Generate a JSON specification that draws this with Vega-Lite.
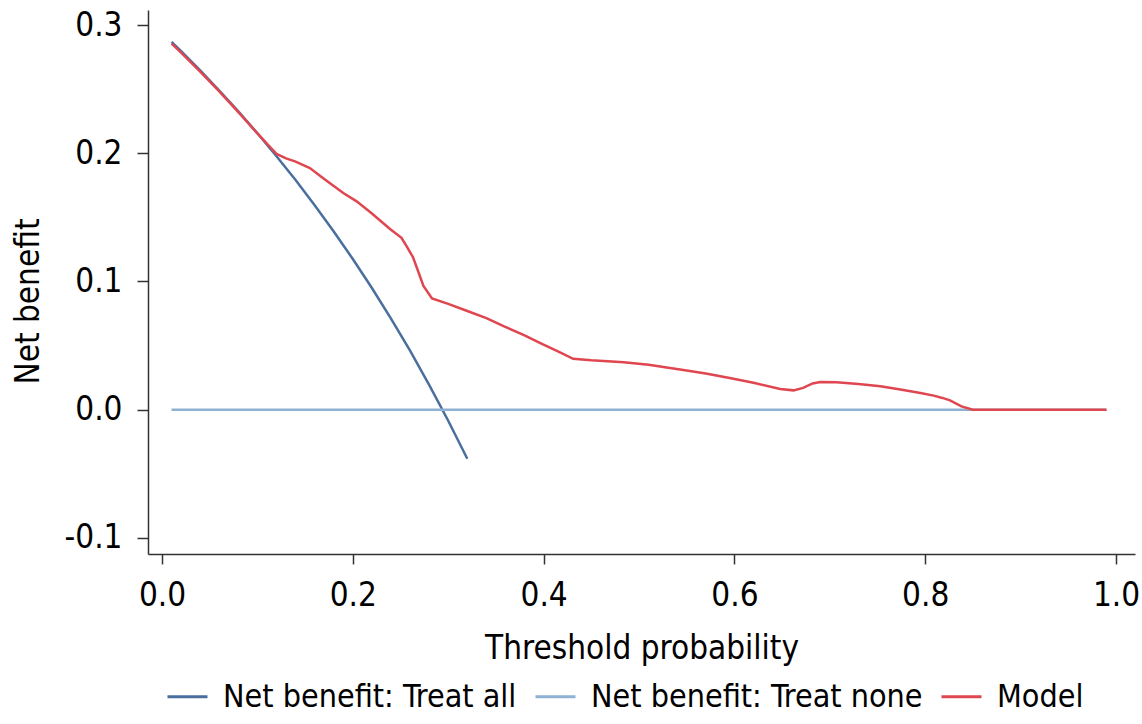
{
  "$schema": "https://vega.github.io/schema/vega-lite/v6.json",
  "autosize": "none",
  "width": 987,
  "height": 544,
  "padding": {"left": 148, "top": 10, "right": 7, "bottom": 170},
  "background": "white",
  "config": {
    "font": "DejaVu Sans Condensed",
    "view": {"stroke": null},
    "axis": {"labelFont": "DejaVu Sans Condensed", "titleFont": "DejaVu Sans Condensed", "labelFontSize": 33, "titleFontSize": 33, "labelColor": "#000", "titleColor": "#000", "titleFontWeight": "normal", "domainColor": "#333", "tickColor": "#333", "domainWidth": 1.5, "tickWidth": 1.5, "grid": false},
    "legend": {"labelFont": "DejaVu Sans Condensed", "labelFontSize": 32, "labelColor": "#000", "labelLimit": 0}
  },
  "datasets": {
    "curves": [
      {"t": 0.01, "nb": 0.2869, "series": "Net benefit: Treat all"},
      {"t": 0.02, "nb": 0.2796, "series": "Net benefit: Treat all"},
      {"t": 0.04, "nb": 0.2646, "series": "Net benefit: Treat all"},
      {"t": 0.06, "nb": 0.2489, "series": "Net benefit: Treat all"},
      {"t": 0.08, "nb": 0.2326, "series": "Net benefit: Treat all"},
      {"t": 0.10, "nb": 0.2156, "series": "Net benefit: Treat all"},
      {"t": 0.12, "nb": 0.1977, "series": "Net benefit: Treat all"},
      {"t": 0.14, "nb": 0.1791, "series": "Net benefit: Treat all"},
      {"t": 0.16, "nb": 0.1595, "series": "Net benefit: Treat all"},
      {"t": 0.18, "nb": 0.1390, "series": "Net benefit: Treat all"},
      {"t": 0.20, "nb": 0.1175, "series": "Net benefit: Treat all"},
      {"t": 0.22, "nb": 0.0949, "series": "Net benefit: Treat all"},
      {"t": 0.24, "nb": 0.0711, "series": "Net benefit: Treat all"},
      {"t": 0.26, "nb": 0.0460, "series": "Net benefit: Treat all"},
      {"t": 0.28, "nb": 0.0194, "series": "Net benefit: Treat all"},
      {"t": 0.30, "nb": -0.0086, "series": "Net benefit: Treat all"},
      {"t": 0.32, "nb": -0.0382, "series": "Net benefit: Treat all"},
      {"t": 0.01, "nb": 0, "series": "Net benefit: Treat none"},
      {"t": 0.25, "nb": 0, "series": "Net benefit: Treat none"},
      {"t": 0.50, "nb": 0, "series": "Net benefit: Treat none"},
      {"t": 0.75, "nb": 0, "series": "Net benefit: Treat none"},
      {"t": 0.99, "nb": 0, "series": "Net benefit: Treat none"},
      {"t": 0.01, "nb": 0.2855, "series": "Model"},
      {"t": 0.02, "nb": 0.2785, "series": "Model"},
      {"t": 0.04, "nb": 0.2637, "series": "Model"},
      {"t": 0.06, "nb": 0.2483, "series": "Model"},
      {"t": 0.08, "nb": 0.2321, "series": "Model"},
      {"t": 0.10, "nb": 0.2155, "series": "Model"},
      {"t": 0.115, "nb": 0.2035, "series": "Model"},
      {"t": 0.12, "nb": 0.1995, "series": "Model"},
      {"t": 0.13, "nb": 0.1960, "series": "Model"},
      {"t": 0.14, "nb": 0.1935, "series": "Model"},
      {"t": 0.155, "nb": 0.1885, "series": "Model"},
      {"t": 0.17, "nb": 0.1800, "series": "Model"},
      {"t": 0.19, "nb": 0.1690, "series": "Model"},
      {"t": 0.204, "nb": 0.1625, "series": "Model"},
      {"t": 0.22, "nb": 0.1530, "series": "Model"},
      {"t": 0.239, "nb": 0.1410, "series": "Model"},
      {"t": 0.251, "nb": 0.1340, "series": "Model"},
      {"t": 0.256, "nb": 0.1280, "series": "Model"},
      {"t": 0.263, "nb": 0.1190, "series": "Model"},
      {"t": 0.268, "nb": 0.1090, "series": "Model"},
      {"t": 0.274, "nb": 0.0966, "series": "Model"},
      {"t": 0.283, "nb": 0.0867, "series": "Model"},
      {"t": 0.30, "nb": 0.0825, "series": "Model"},
      {"t": 0.32, "nb": 0.0770, "series": "Model"},
      {"t": 0.34, "nb": 0.0715, "series": "Model"},
      {"t": 0.358, "nb": 0.0652, "series": "Model"},
      {"t": 0.38, "nb": 0.0580, "series": "Model"},
      {"t": 0.396, "nb": 0.0522, "series": "Model"},
      {"t": 0.415, "nb": 0.0455, "series": "Model"},
      {"t": 0.431, "nb": 0.0397, "series": "Model"},
      {"t": 0.45, "nb": 0.0385, "series": "Model"},
      {"t": 0.484, "nb": 0.0371, "series": "Model"},
      {"t": 0.51, "nb": 0.0350, "series": "Model"},
      {"t": 0.543, "nb": 0.0313, "series": "Model"},
      {"t": 0.57, "nb": 0.0283, "series": "Model"},
      {"t": 0.595, "nb": 0.0248, "series": "Model"},
      {"t": 0.62, "nb": 0.0210, "series": "Model"},
      {"t": 0.648, "nb": 0.0162, "series": "Model"},
      {"t": 0.662, "nb": 0.0151, "series": "Model"},
      {"t": 0.672, "nb": 0.0170, "series": "Model"},
      {"t": 0.682, "nb": 0.0205, "series": "Model"},
      {"t": 0.69, "nb": 0.0217, "series": "Model"},
      {"t": 0.707, "nb": 0.0214, "series": "Model"},
      {"t": 0.73, "nb": 0.0200, "series": "Model"},
      {"t": 0.753, "nb": 0.0183, "series": "Model"},
      {"t": 0.774, "nb": 0.0157, "series": "Model"},
      {"t": 0.795, "nb": 0.0130, "series": "Model"},
      {"t": 0.809, "nb": 0.0110, "series": "Model"},
      {"t": 0.818, "nb": 0.0092, "series": "Model"},
      {"t": 0.826, "nb": 0.0073, "series": "Model"},
      {"t": 0.838, "nb": 0.0026, "series": "Model"},
      {"t": 0.85, "nb": 0.0, "series": "Model"},
      {"t": 0.90, "nb": 0.0, "series": "Model"},
      {"t": 0.95, "nb": 0.0, "series": "Model"},
      {"t": 0.99, "nb": 0.0, "series": "Model"}
    ]
  },
  "data": {"name": "curves"},
  "encoding": {
    "x": {
      "field": "t", "type": "quantitative",
      "scale": {"domain": [-0.0147, 1.0199], "nice": false, "zero": false},
      "axis": {"title": "Threshold probability", "values": [0, 0.2, 0.4, 0.6, 0.8, 1.0], "format": ".1f", "tickSize": 10, "labelPadding": 15, "titleBaseline": "alphabetic", "titleY": 104}
    },
    "y": {
      "field": "nb", "type": "quantitative",
      "scale": {"domain": [-0.1125, 0.3117], "nice": false, "zero": false},
      "axis": {"title": "Net benefit", "values": [-0.1, 0, 0.1, 0.2, 0.3], "labelExpr": "replace(format(datum.value, '.1f'), '\u2212', '-')", "tickSize": 11, "labelPadding": 15, "titleX": -120, "titleY": 291, "titleBaseline": "middle", "titleAlign": "center", "titleAngle": -90}
    },
    "color": {
      "field": "series", "type": "nominal",
      "scale": {"domain": ["Net benefit: Treat all", "Net benefit: Treat none", "Model"], "range": ["#4a6f9e", "#8fb1d3", "#e0464f"]},
      "legend": {"title": null, "orient": "none", "direction": "horizontal", "legendX": 18, "legendY": 665, "symbolType": "stroke", "symbolSize": 1600, "symbolStrokeWidth": 3, "labelOffset": 14, "columnPadding": 12, "padding": 0, "labelLimit": 0}
    }
  },
  "layer": [
    {"transform": [{"filter": "datum.series !== 'Model'"}], "mark": {"type": "line", "strokeWidth": 2.5}},
    {"transform": [{"filter": "datum.series === 'Model'"}], "mark": {"type": "line", "strokeWidth": 2.5}}
  ]
}
